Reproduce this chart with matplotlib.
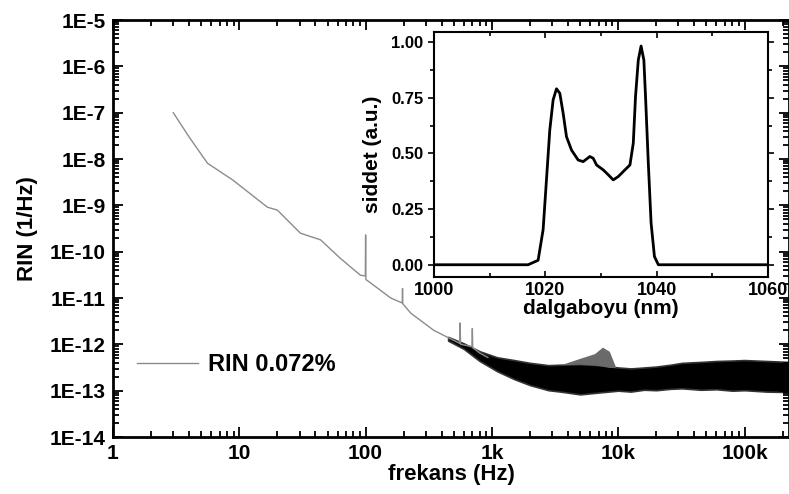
import numpy as np
import matplotlib.pyplot as plt
from matplotlib.ticker import LogLocator, NullFormatter, MultipleLocator

plt.rcParams['font.family'] = ['Liberation Sans', 'DejaVu Sans']
plt.rcParams['font.weight'] = 'bold'

# RIN spectrum, low-frequency part (Hz, 1/Hz)
low_freq = [3, 4, 5.6, 8.9, 16.7, 20, 30.5, 44, 63, 91,
            99.5, 100, 100.5, 110, 158, 195, 196, 197, 228, 347,
            555, 560, 565, 620, 695, 700, 705, 800, 930]
low_rin = [1.0e-7, 3.0e-8, 8.1e-9, 3.5e-9, 9.1e-10, 7.9e-10, 2.5e-10, 1.8e-10, 7.2e-11, 3.1e-11,
           3.0e-11, 2.3e-10, 2.5e-11, 2.1e-11, 1.0e-11, 7.8e-12, 1.6e-11, 7.5e-12, 4.7e-12, 2.0e-12,
           1.05e-12, 2.9e-12, 1.0e-12, 9.5e-13, 9.0e-13, 2.2e-12, 8.5e-13, 6.5e-13, 5.2e-13]

# noise band envelope at high frequency (log10 of RIN)
band_freq = [450, 600, 800, 1100, 1500, 2000, 2800, 3500, 5000, 7000, 10000, 12600,
             16000, 20000, 26000, 32000, 45000, 60000, 80000, 100000, 150000, 225000]
band_low = [-11.92, -12.10, -12.36, -12.58, -12.75, -12.88, -12.99, -13.02, -13.08, -13.04, -13.00, -13.02,
            -12.98, -12.99, -12.96, -12.95, -12.98, -12.97, -13.00, -12.99, -13.02, -13.03]
band_high = [-11.84, -11.98, -12.15, -12.28, -12.34, -12.40, -12.45, -12.44, -12.43, -12.45, -12.50, -12.52,
             -12.50, -12.48, -12.44, -12.40, -12.38, -12.36, -12.35, -12.34, -12.36, -12.38]

# grey bump around 8 kHz
bump_freq = [3500, 5000, 6500, 7500, 8500, 9500]
bump_high = [-12.44, -12.30, -12.20, -12.06, -12.15, -12.48]
bump_low = [-12.44, -12.43, -12.45, -12.47, -12.50, -12.50]

# inset spectrum
wl = [1000, 1016.9, 1018.7, 1019.6, 1020.2, 1020.8, 1021.4, 1022.0, 1022.6, 1023.2, 1023.8,
      1024.7, 1025.9, 1026.8, 1028.0, 1028.6, 1029.2, 1030.4, 1031.3, 1032.2, 1033.1,
      1034.3, 1035.2, 1035.8, 1036.2, 1036.7, 1037.2, 1037.7, 1038.0, 1038.5, 1039.0,
      1039.6, 1040.3, 1060]
inten = [0.0, 0.0, 0.02, 0.157, 0.38, 0.605, 0.74, 0.79, 0.77, 0.68, 0.575,
         0.515, 0.47, 0.463, 0.486, 0.478, 0.448, 0.426, 0.404, 0.381, 0.396,
         0.426, 0.448, 0.546, 0.755, 0.919, 0.982, 0.919, 0.755, 0.456, 0.187,
         0.037, 0.0, 0.0]

fig = plt.figure(figsize=(7.89, 4.94), dpi=100)
ax = fig.add_axes([113/789, 1-437/494, 676/789, 417/494])

ax.fill_between(band_freq, 10**np.array(band_low), 10**np.array(band_high),
                color='black', lw=1.2, edgecolor='#333333')
ax.fill_between(bump_freq, 10**np.array(bump_low), 10**np.array(bump_high),
                color='#6a6a6a', lw=0)
ax.plot(low_freq, low_rin, color='#8c8c8c', lw=1.0, label='RIN 0.072%')

ax.set_xscale('log')
ax.set_yscale('log')
ax.set_xlim(1, 2.25e5)
ax.set_ylim(1e-14, 1e-5)
ax.xaxis.set_minor_locator(LogLocator(base=10, subs=np.arange(2, 10), numticks=20))
ax.yaxis.set_minor_locator(LogLocator(base=10, subs=np.arange(2, 10), numticks=20))
ax.xaxis.set_minor_formatter(NullFormatter())
ax.yaxis.set_minor_formatter(NullFormatter())
xt = [1, 10, 100, 1000, 10000, 100000]
ax.set_xticks(xt)
ax.set_xticklabels(['1', '10', '100', '1k', '10k', '100k'])
yt = [10.0**k for k in range(-14, -4)]
ax.set_yticks(yt)
ax.set_yticklabels(['1E%d' % k for k in range(-14, -4)])
ax.tick_params(which='both', direction='in', top=True, right=True, width=1.3, labelsize=15)
ax.tick_params(which='major', length=7, pad=5)
ax.tick_params(which='minor', length=4)
for s in ax.spines.values():
    s.set_linewidth(2)
ax.set_xlabel('frekans (Hz)', fontsize=16, fontweight='bold', labelpad=1)
ax.set_ylabel('RIN (1/Hz)', fontsize=16, fontweight='bold', labelpad=9)
ax.legend(loc='center left', bbox_to_anchor=(0.0355, 0.173), frameon=False, fontsize=17,
          handlelength=2.6, handletextpad=0.4, borderaxespad=0.0, borderpad=0.0)

# inset
ins = fig.add_axes([434/789, 1-277/494, 334/789, 245/494])
ins.plot(wl, inten, color='black', lw=2.0)
ins.set_xlim(1000, 1060)
ins.set_ylim(-0.055, 1.045)
ins.set_xticks([1000, 1020, 1040, 1060])
ins.xaxis.set_minor_locator(MultipleLocator(10))
ins.set_yticks([0.0, 0.25, 0.5, 0.75, 1.0])
ins.set_yticklabels(['0.00', '0.25', '0.50', '0.75', '1.00'])
ins.yaxis.set_minor_locator(MultipleLocator(0.125))
ins.tick_params(axis='y', which='both', direction='out', labelsize=12, width=1.2)
ins.tick_params(axis='x', which='both', direction='in', top=True, labelsize=13, width=1.2)
ins.tick_params(which='major', length=4)
ins.tick_params(which='minor', length=3)
ins.tick_params(axis='y', which='both', right=True)
for s in ins.spines.values():
    s.set_linewidth(1.5)
ins.set_xlabel('dalgaboyu (nm)', fontsize=15, fontweight='bold', labelpad=0)
ins.set_ylabel('siddet (a.u.)', fontsize=15, fontweight='bold', labelpad=7)

fig.savefig('out.png', dpi=100)
